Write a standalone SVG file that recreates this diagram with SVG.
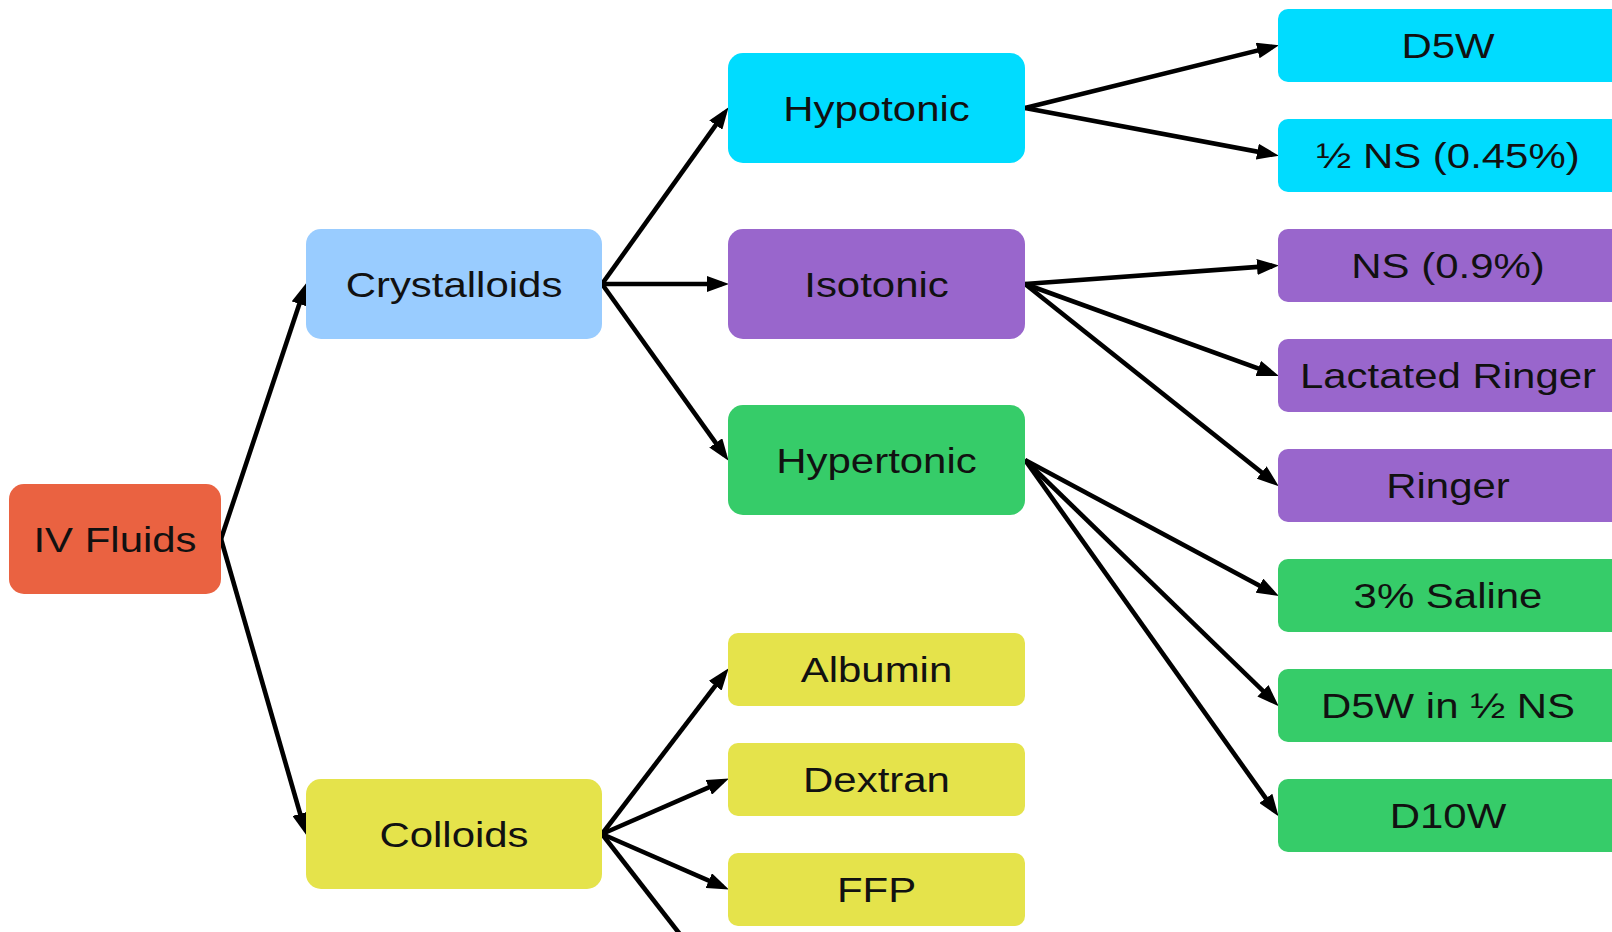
<svg xmlns="http://www.w3.org/2000/svg" width="1612" height="932" viewBox="0 0 1612 932">
<defs>
<style>
.t{font-family:"Liberation Sans",Arial,sans-serif;font-size:36px;fill:#111;text-anchor:middle}
.e{stroke:#000;stroke-width:4.6;fill:none;marker-end:url(#ah)}
.red{fill:#EA6241}.lb{fill:#99CCFF}.cy{fill:#00DCFF}.pu{fill:#9966CC}.gr{fill:#36CC69}.ye{fill:#E5E34B}
</style>
<marker id="ah" markerUnits="userSpaceOnUse" markerWidth="22" markerHeight="16" refX="15" refY="8" orient="auto">
<path d="M0,0 L22,8 L0,16 z" fill="#000"/>
</marker>
</defs>
<rect width="1612" height="932" fill="#fff"/>
<g id="connectors">
<line class="e" x1="221" y1="539" x2="304.1" y2="289.7"/>
<line class="e" x1="221" y1="539" x2="304.3" y2="828.2"/>
<line class="e" x1="602" y1="284" x2="724.5" y2="112.9"/>
<line class="e" x1="602" y1="284" x2="722" y2="284"/>
<line class="e" x1="602" y1="284" x2="724.5" y2="455.1"/>
<line class="e" x1="602" y1="834" x2="724.4" y2="673.8"/>
<line class="e" x1="602" y1="834" x2="722.5" y2="781.4"/>
<line class="e" x1="602" y1="834" x2="722.5" y2="886.6"/>
<line x1="602" y1="834" x2="700" y2="960" stroke="#000" stroke-width="4.6"/>
<line class="e" x1="1025" y1="108" x2="1272.2" y2="46.9"/>
<line class="e" x1="1025" y1="108" x2="1272.1" y2="154.4"/>
<line class="e" x1="1025" y1="284" x2="1272" y2="265.9"/>
<line class="e" x1="1025" y1="284" x2="1272.4" y2="373.5"/>
<line class="e" x1="1025" y1="284" x2="1273.3" y2="481.8"/>
<line class="e" x1="1025" y1="460" x2="1272.7" y2="592.7"/>
<line class="e" x1="1025" y1="460" x2="1273.7" y2="701.3"/>
<line class="e" x1="1025" y1="460" x2="1274.5" y2="810.6"/>
</g>
<g id="iv-fluids"><rect class="red" x="9" y="484" width="212" height="110" rx="15"/><text class="t" transform="translate(115,552) scale(1.165,1)">IV Fluids</text></g>
<g id="crystalloids"><rect class="lb" x="306" y="229" width="296" height="110" rx="15"/><text class="t" transform="translate(454,297) scale(1.165,1)">Crystalloids</text></g>
<g id="colloids"><rect class="ye" x="306" y="779" width="296" height="110" rx="15"/><text class="t" transform="translate(454,847) scale(1.165,1)">Colloids</text></g>
<g id="hypotonic"><rect class="cy" x="728" y="53" width="297" height="110" rx="15"/><text class="t" transform="translate(876.5,121) scale(1.165,1)">Hypotonic</text></g>
<g id="isotonic"><rect class="pu" x="728" y="229" width="297" height="110" rx="15"/><text class="t" transform="translate(876.5,297) scale(1.165,1)">Isotonic</text></g>
<g id="hypertonic"><rect class="gr" x="728" y="405" width="297" height="110" rx="15"/><text class="t" transform="translate(876.5,473) scale(1.165,1)">Hypertonic</text></g>
<g id="albumin"><rect class="ye" x="728" y="633" width="297" height="73" rx="10"/><text class="t" transform="translate(876.5,682) scale(1.165,1)">Albumin</text></g>
<g id="dextran"><rect class="ye" x="728" y="743" width="297" height="73" rx="10"/><text class="t" transform="translate(876.5,792) scale(1.165,1)">Dextran</text></g>
<g id="ffp"><rect class="ye" x="728" y="853" width="297" height="73" rx="10"/><text class="t" transform="translate(876.5,902) scale(1.165,1)">FFP</text></g>
<g id="d5w"><rect class="cy" x="1278" y="9" width="344" height="73" rx="10"/><text class="t" transform="translate(1448,58) scale(1.165,1)">D5W</text></g>
<g id="half-ns"><rect class="cy" x="1278" y="119" width="344" height="73" rx="10"/><text class="t" transform="translate(1448,168) scale(1.165,1)">½ NS (0.45%)</text></g>
<g id="ns"><rect class="pu" x="1278" y="229" width="344" height="73" rx="10"/><text class="t" transform="translate(1448,278) scale(1.165,1)">NS (0.9%)</text></g>
<g id="lactated-ringer"><rect class="pu" x="1278" y="339" width="344" height="73" rx="10"/><text class="t" transform="translate(1448,388) scale(1.165,1)">Lactated Ringer</text></g>
<g id="ringer"><rect class="pu" x="1278" y="449" width="344" height="73" rx="10"/><text class="t" transform="translate(1448,498) scale(1.165,1)">Ringer</text></g>
<g id="saline3"><rect class="gr" x="1278" y="559" width="344" height="73" rx="10"/><text class="t" transform="translate(1448,608) scale(1.165,1)">3% Saline</text></g>
<g id="d5w-half-ns"><rect class="gr" x="1278" y="669" width="344" height="73" rx="10"/><text class="t" transform="translate(1448,718) scale(1.165,1)">D5W in ½ NS</text></g>
<g id="d10w"><rect class="gr" x="1278" y="779" width="344" height="73" rx="10"/><text class="t" transform="translate(1448,828) scale(1.165,1)">D10W</text></g>
</svg>
